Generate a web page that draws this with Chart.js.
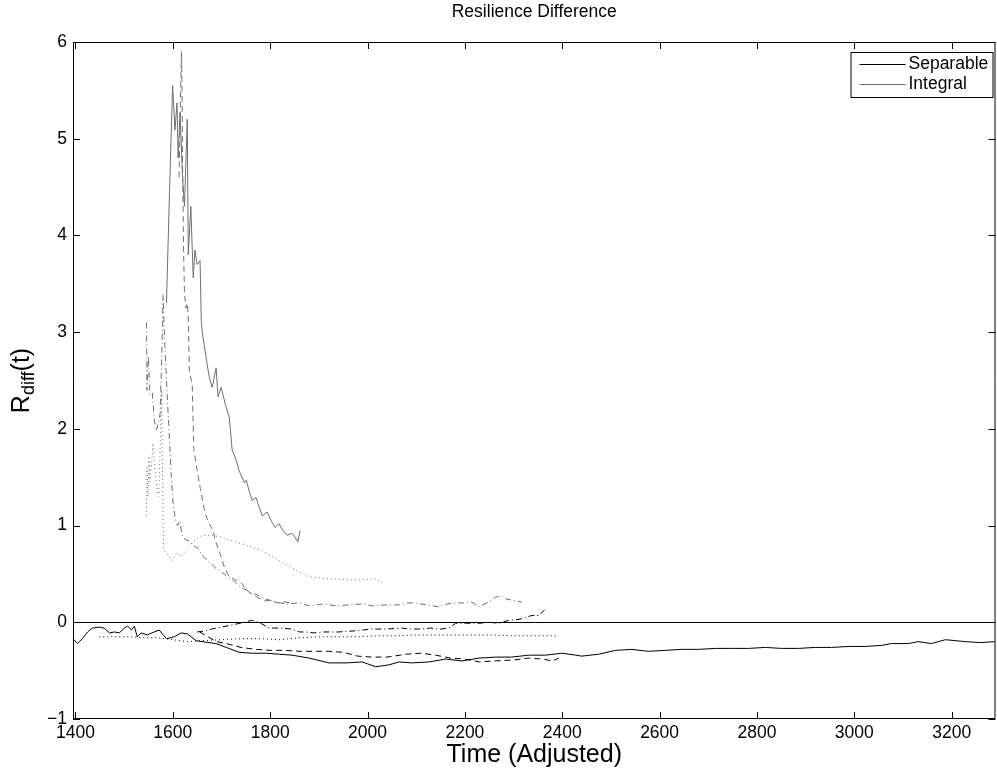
<!DOCTYPE html>
<html>
<head>
<meta charset="utf-8">
<title>Resilience Difference</title>
<script src="https://cdn.jsdelivr.net/npm/chart.js@4.4.1/dist/chart.umd.min.js"></script>
<style>
  html, body { margin: 0; padding: 0; background: #fff; }
  #wrap { width: 997px; height: 770px; }
</style>
</head>
<body>
<div id="wrap"><canvas id="chart" width="997" height="770"></canvas></div>
<script>
// MATLAB-style figure: thin black/grey runs, boxed axes, ticks pointing inward.
const FONT = "'Liberation Sans', Arial, Helvetica, sans-serif";
const SEP_COLOUR = '#000000';
const INT_COLOUR = '#6e6e6e';
const TICK_LEN = 7;
const BASE_SIZE = 17.5;
const LABEL_SIZE = 25;

const conditions = ['Separable', 'Integral'];
const xTickValues = [1400, 1600, 1800, 2000, 2200, 2400, 2600, 2800, 3000, 3200];
const yTickValues = [-1, 0, 1, 2, 3, 4, 5, 6];

// Integral runs: [time, R_diff]
const integralSolid = [
  [1587, 3.3], [1593, 4.4], [1599.6, 5.55], [1604.5, 5.09], [1608.6, 5.37], [1611, 4.8],
  [1614.8, 5.27], [1620, 4.6], [1624, 4.3], [1629.7, 5.2], [1631.8, 3.8], [1637, 4.3],
  [1642, 3.56], [1645.5, 3.85], [1650, 3.7], [1656, 3.74], [1658.5, 3.12], [1660.5, 3.0],
  [1668, 2.75], [1675, 2.53], [1681, 2.43], [1689, 2.63], [1693, 2.33], [1699.5, 2.43],
  [1708, 2.25], [1716, 2.12], [1722, 1.78], [1730, 1.68], [1736, 1.57], [1747, 1.44],
  [1751, 1.47], [1757, 1.35], [1763, 1.26], [1771, 1.29], [1778, 1.18], [1784, 1.1],
  [1794, 1.14], [1802, 1.05], [1810, 0.98], [1818, 1.02], [1826, 0.95], [1835, 0.9],
  [1845, 0.92], [1851, 0.88], [1857, 0.83], [1861.5, 0.95]
];
const integralDashed = [
  [1613, 4.6], [1616, 5.5], [1618, 5.9], [1619, 5.5], [1620, 4.8], [1622, 3.9], [1624, 3.4],
  [1627, 3.25], [1630, 3.3], [1632, 3.1], [1634, 2.6], [1640, 2.45], [1643, 1.8], [1649, 1.6],
  [1657, 1.37], [1665, 1.16], [1673, 1.03], [1683, 0.95], [1687, 0.85], [1697, 0.71],
  [1706, 0.57], [1716, 0.47], [1725, 0.45], [1732, 0.43], [1742, 0.4], [1751, 0.34],
  [1759, 0.3], [1770, 0.27], [1780, 0.24], [1790, 0.22], [1800, 0.23], [1815, 0.2],
  [1830, 0.21], [1845, 0.2]
];
const integralDashDot = [
  [1546, 3.1], [1547, 2.4], [1550, 2.75], [1553, 2.35], [1558, 2.37], [1562, 2.1], [1566, 1.98],
  [1570, 2.05], [1574, 2.16], [1578, 2.9], [1580, 3.38], [1583, 2.95], [1588, 2.4], [1592, 2.0],
  [1597, 1.5], [1601, 1.2], [1607, 1.02], [1610, 1.0], [1614, 1.05], [1620, 0.88], [1628, 0.85],
  [1635, 0.84], [1640, 0.8], [1650, 0.77], [1660, 0.7], [1670, 0.64], [1680, 0.6], [1690, 0.55],
  [1700, 0.52], [1710, 0.48], [1720, 0.45], [1735, 0.38], [1745, 0.35], [1760, 0.31],
  [1775, 0.28], [1790, 0.24], [1805, 0.22], [1820, 0.2], [1835, 0.19], [1859, 0.2],
  [1880, 0.17], [1910, 0.19], [1935, 0.17], [1962, 0.18], [1990, 0.19], [2010, 0.17],
  [2040, 0.18], [2065, 0.18], [2080, 0.2], [2099, 0.2], [2120, 0.18], [2147, 0.16],
  [2165, 0.19], [2181, 0.2], [2200, 0.2], [2214, 0.21], [2229, 0.16], [2245, 0.2],
  [2263, 0.26], [2275, 0.27], [2285, 0.24], [2296, 0.23], [2307, 0.22], [2317, 0.21]
];
const integralDotted = [
  [1546, 1.1], [1547, 1.6], [1549, 1.3], [1551, 1.7], [1553, 1.45], [1556, 1.6], [1559, 1.85],
  [1563, 1.6], [1567, 1.4], [1571, 1.3], [1574, 1.8], [1577, 2.4], [1579, 1.5], [1581, 0.77],
  [1585, 0.72], [1590, 0.7], [1595, 0.65], [1600, 0.64], [1605, 0.7], [1610, 0.72],
  [1615, 0.68], [1620, 0.7], [1630, 0.75], [1645, 0.85], [1660, 0.9], [1680, 0.9],
  [1700, 0.88], [1716, 0.85], [1750, 0.8], [1784, 0.74], [1818, 0.64], [1853, 0.54],
  [1880, 0.47], [1921, 0.45], [1960, 0.44], [1989, 0.44], [2017, 0.45], [2028, 0.42],
  [2034, 0.38]
];

// Separable runs: [time, R_diff]
const separableSolid = [
  [1395, -0.17], [1404, -0.22], [1414, -0.17], [1425, -0.1], [1435, -0.06], [1449, -0.05],
  [1459, -0.06], [1470, -0.11], [1480, -0.1], [1490, -0.11], [1500.5, -0.06], [1507, -0.04],
  [1515, -0.08], [1521, -0.04], [1527, -0.15], [1535, -0.11], [1548, -0.13], [1562, -0.1],
  [1572, -0.08], [1587, -0.17], [1603, -0.15], [1617, -0.11], [1630, -0.12], [1648, -0.19],
  [1660, -0.2], [1689, -0.22], [1710, -0.26], [1736, -0.31], [1763, -0.32], [1792, -0.32],
  [1818, -0.33], [1845, -0.34], [1880, -0.37], [1921, -0.42], [1956, -0.42], [1989, -0.41],
  [2017, -0.46], [2044, -0.44], [2065, -0.41], [2091, -0.42], [2126, -0.41], [2161, -0.38],
  [2194, -0.4], [2229, -0.37], [2264, -0.36], [2296, -0.36], [2331, -0.34], [2366, -0.34],
  [2399, -0.32], [2428, -0.34], [2440, -0.35], [2475, -0.33], [2510, -0.29], [2543, -0.28],
  [2577, -0.3], [2612, -0.29], [2645, -0.28], [2680, -0.28], [2715, -0.27], [2750, -0.27],
  [2783, -0.27], [2817, -0.26], [2850, -0.27], [2885, -0.27], [2920, -0.26], [2953, -0.26],
  [2988, -0.25], [3020, -0.25], [3055, -0.24], [3076, -0.22], [3111, -0.22], [3131, -0.2],
  [3158, -0.22], [3187, -0.18], [3228, -0.2], [3260, -0.21], [3288, -0.2]
];
const separableDashed = [
  [1655, -0.1], [1672, -0.15], [1690, -0.2], [1710, -0.22], [1740, -0.26], [1770, -0.28],
  [1800, -0.29], [1830, -0.29], [1860, -0.3], [1890, -0.3], [1920, -0.3], [1950, -0.31],
  [1980, -0.35], [2010, -0.36], [2040, -0.36], [2080, -0.33], [2110, -0.32], [2140, -0.34],
  [2170, -0.37], [2200, -0.38], [2230, -0.41], [2260, -0.4], [2300, -0.39], [2330, -0.37],
  [2360, -0.38], [2380, -0.4], [2393, -0.37]
];
const separableDashDot = [
  [1650, -0.1], [1665, -0.09], [1680, -0.07], [1700, -0.05], [1720, -0.03], [1747, 0.0],
  [1762, 0.02], [1777, 0.0], [1798, -0.06], [1820, -0.06], [1845, -0.07], [1860, -0.1],
  [1874, -0.1], [1890, -0.11], [1910, -0.1], [1940, -0.1], [1970, -0.09], [1990, -0.08],
  [2009, -0.07], [2040, -0.07], [2070, -0.06], [2091, -0.07], [2105, -0.07], [2130, -0.06],
  [2150, -0.07], [2167, -0.06], [2181, -0.01], [2202, -0.01], [2229, -0.01], [2250, 0.0],
  [2270, -0.01], [2290, 0.02], [2311, 0.03], [2325, 0.05], [2337, 0.07], [2352, 0.07],
  [2362, 0.12], [2368, 0.15]
];
const separableDotted = [
  [1449, -0.15], [1480, -0.15], [1510, -0.15], [1540, -0.16], [1570, -0.16], [1600, -0.18],
  [1630, -0.2], [1660, -0.19], [1700, -0.18], [1740, -0.17], [1780, -0.17], [1820, -0.18],
  [1860, -0.16], [1900, -0.15], [1940, -0.15], [1980, -0.15], [2020, -0.14], [2060, -0.14],
  [2100, -0.13], [2150, -0.13], [2200, -0.13], [2250, -0.13], [2300, -0.14], [2350, -0.14],
  [2393, -0.14]
];

const DASH = { solid: [], dashed: [6, 4], dotted: [1, 3], dashdot: [6, 3, 1, 3] };

function run(label, points, colour, dash) {
  return {
    label,
    data: points.map(p => ({ x: p[0], y: p[1] })),
    borderColor: colour,
    backgroundColor: colour,
    borderWidth: 1,
    borderDash: DASH[dash],
    pointRadius: 0,
    fill: false,
    tension: 0,
  };
}

const datasets = [
  run('Separable', separableSolid, SEP_COLOUR, 'solid'),
  run('Integral', integralSolid, INT_COLOUR, 'solid'),
  run('Separable', separableDashed, SEP_COLOUR, 'dashed'),
  run('Integral', integralDashed, INT_COLOUR, 'dashed'),
  run('Separable', separableDotted, SEP_COLOUR, 'dotted'),
  run('Integral', integralDotted, INT_COLOUR, 'dotted'),
  run('Separable', separableDashDot, SEP_COLOUR, 'dashdot'),
  run('Integral', integralDashDot, INT_COLOUR, 'dashdot'),
];

// Axes box with inward ticks on all four sides
const boxTicks = {
  id: 'boxTicks',
  afterDraw(chart) {
    const { ctx, chartArea: a, scales: { x, y } } = chart;
    ctx.save();
    ctx.strokeStyle = '#000';
    ctx.lineWidth = 1;
    ctx.beginPath();
    ctx.rect(a.left + 0.5, a.top + 0.5, a.right - a.left - 1, a.bottom - a.top - 1);
    x.ticks.forEach(t => {
      const px = Math.round(x.getPixelForValue(t.value)) + 0.5;
      ctx.moveTo(px, a.bottom); ctx.lineTo(px, a.bottom - TICK_LEN);
      ctx.moveTo(px, a.top); ctx.lineTo(px, a.top + TICK_LEN);
    });
    y.ticks.forEach(t => {
      const py = Math.round(y.getPixelForValue(t.value)) + 0.5;
      ctx.moveTo(a.left, py); ctx.lineTo(a.left + TICK_LEN, py);
      ctx.moveTo(a.right, py); ctx.lineTo(a.right - TICK_LEN, py);
    });
    ctx.stroke();
    ctx.restore();
  }
};

// Y title with subscript: R_diff(t)
const yTitle = {
  id: 'yTitle',
  afterDraw(chart) {
    const { ctx, chartArea: a } = chart;
    const big = LABEL_SIZE + 'px ' + FONT, small = Math.round(LABEL_SIZE * 0.7) + 'px ' + FONT;
    ctx.save();
    ctx.fillStyle = '#000';
    ctx.textBaseline = 'alphabetic';
    ctx.font = big;
    const wR = ctx.measureText('R').width, wT = ctx.measureText('(t)').width;
    ctx.font = small;
    const wD = ctx.measureText('diff').width;
    const total = wR + wD + wT;
    ctx.translate(29, (a.top + a.bottom) / 2);
    ctx.rotate(-Math.PI / 2);
    let cx = -total / 2;
    ctx.font = big; ctx.fillText('R', cx, 0); cx += wR;
    ctx.font = small; ctx.fillText('diff', cx, 5); cx += wD;
    ctx.font = big; ctx.fillText('(t)', cx, 0);
    ctx.restore();
  }
};

// Boxed legend in the top-right corner of the axes
const boxLegend = {
  id: 'boxLegend',
  afterDraw(chart) {
    const { ctx, chartArea: a } = chart;
    const colours = [SEP_COLOUR, INT_COLOUR];
    const w = 142, h = 45, rowH = 20;
    const left = a.right - 3 - w, top = a.top + 10;
    ctx.save();
    ctx.fillStyle = '#fff';
    ctx.fillRect(left, top, w, h);
    ctx.strokeStyle = '#000';
    ctx.lineWidth = 1;
    ctx.strokeRect(left + 0.5, top + 0.5, w, h);
    ctx.font = BASE_SIZE + 'px ' + FONT;
    ctx.textBaseline = 'middle';
    conditions.forEach((name, i) => {
      const yy = Math.round(top + 12 + i * rowH) + 0.5;
      ctx.strokeStyle = colours[i];
      ctx.beginPath();
      ctx.moveTo(left + 9, yy); ctx.lineTo(left + 55, yy);
      ctx.stroke();
      ctx.fillStyle = '#000';
      ctx.fillText(name, left + 58, yy);
    });
    ctx.restore();
  }
};

new Chart(document.getElementById('chart'), {
  type: 'line',
  data: { datasets },
  plugins: [boxTicks, yTitle, boxLegend],
  options: {
    responsive: false,
    animation: false,
    layout: { padding: { top: 0, right: 1.5, left: 0, bottom: 0 } },
    plugins: {
      legend: { display: false },
      tooltip: { enabled: false },
      title: {
        display: true,
        fullSize: false,
        text: 'Resilience Difference',
        color: '#000',
        font: { family: FONT, size: BASE_SIZE, weight: 'normal' },
        padding: { top: 2, bottom: 19 },
      },
    },
    scales: {
      x: {
        type: 'linear',
        min: 1395,
        max: 3290,
        afterBuildTicks: s => { s.ticks = xTickValues.map(v => ({ value: v })); },
        afterFit: s => { s.height = 51; },
        ticks: {
          color: '#000',
          font: { family: FONT, size: BASE_SIZE },
          padding: 4,
          maxRotation: 0,
          autoSkip: false,
          callback: v => String(v),
        },
        grid: { display: false, drawTicks: false },
        border: { display: false },
        title: {
          display: true,
          text: 'Time (Adjusted)',
          color: '#000',
          font: { family: FONT, size: LABEL_SIZE },
          padding: { top: 0, bottom: 0 },
        },
      },
      y: {
        type: 'linear',
        min: -1,
        max: 6,
        afterBuildTicks: s => { s.ticks = yTickValues.map(v => ({ value: v })); },
        afterFit: s => { s.width = 73; },
        ticks: {
          color: '#000',
          font: { family: FONT, size: BASE_SIZE },
          padding: 6,
          callback: v => String(v).replace('-', '\u2212'),
        },
        grid: {
          drawTicks: false,
          lineWidth: 1,
          color: c => (c.tick && c.tick.value === 0 ? '#000' : 'rgba(0,0,0,0)'),
        },
        border: { display: false },
      },
    },
  },
});
</script>
</body>
</html>
